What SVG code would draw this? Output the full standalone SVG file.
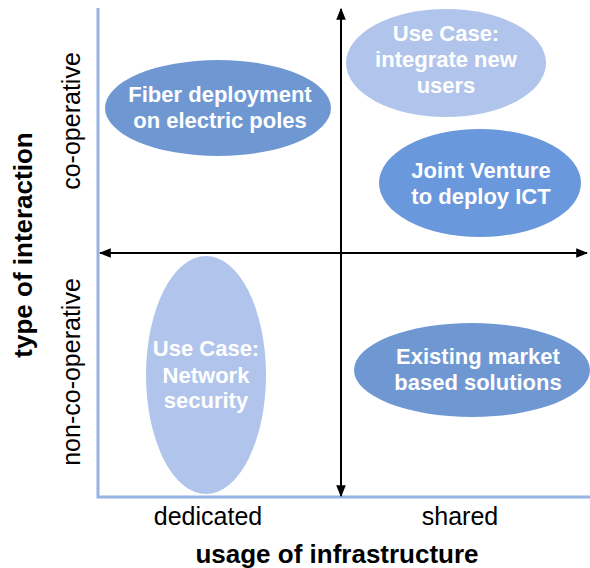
<svg xmlns="http://www.w3.org/2000/svg" width="590" height="568" viewBox="0 0 590 568">
<style>
.lbl{font-family:"Liberation Sans",Arial,sans-serif;font-size:22px;font-weight:bold;fill:#ffffff;text-anchor:middle}
.ax{font-family:"Liberation Sans",Arial,sans-serif;font-size:25px;fill:#000;text-anchor:middle}
.axb{font-family:"Liberation Sans",Arial,sans-serif;font-size:26px;font-weight:bold;fill:#000;text-anchor:middle}
.dark{fill:#6f98d3}
.light{fill:#b1c5ec}
</style>
<defs>
<marker id="ah" viewBox="0 0 10 10" refX="9" refY="5" markerWidth="6" markerHeight="6" orient="auto-start-reverse" markerUnits="strokeWidth">
<path d="M0,1 L10,5 L0,9 z" fill="#000"/>
</marker>
</defs>
<rect width="590" height="568" fill="#fff"/>
<g id="frame">
<polyline points="98,8 98,497 590,497" fill="none" stroke="#95b3e3" stroke-width="3"/>
</g>
<g id="connectors">
<line x1="341" y1="9" x2="341" y2="496" stroke="#000" stroke-width="2" marker-start="url(#ah)" marker-end="url(#ah)"/>
<line x1="100" y1="253" x2="587" y2="253" stroke="#000" stroke-width="2" marker-start="url(#ah)" marker-end="url(#ah)"/>
</g>
<g id="fiber">
<ellipse class="dark" cx="218" cy="108" rx="113" ry="48"/>
<text class="lbl" x="220" y="102">Fiber deployment</text>
<text class="lbl" x="220" y="128">on electric poles</text>
</g>
<g id="integrate">
<ellipse class="light" cx="446" cy="63" rx="100" ry="54"/>
<text class="lbl" x="446" y="41">Use Case:</text>
<text class="lbl" x="446" y="67">integrate new</text>
<text class="lbl" x="446" y="93">users</text>
</g>
<g id="joint">
<ellipse fill="#6a98dc" cx="480" cy="183" rx="101" ry="54"/>
<text class="lbl" x="481" y="178">Joint Venture</text>
<text class="lbl" x="481" y="204">to deploy ICT</text>
</g>
<g id="security">
<ellipse class="light" cx="206" cy="375" rx="60" ry="119"/>
<text class="lbl" x="206" y="356">Use Case:</text>
<text class="lbl" x="206" y="383">Network</text>
<text class="lbl" x="206" y="408">security</text>
</g>
<g id="market">
<ellipse class="dark" cx="472" cy="370" rx="118" ry="47"/>
<text class="lbl" x="478" y="364">Existing market</text>
<text class="lbl" x="478" y="390">based solutions</text>
</g>
<g id="axis-labels">
<text class="ax" x="208" y="525">dedicated</text>
<text class="ax" x="460" y="525">shared</text>
<text class="axb" x="337" y="563">usage of infrastructure</text>
<text class="axb" transform="translate(32,245) rotate(-90)">type of interaction</text>
<text class="ax" transform="translate(80,121) rotate(-90)">co-operative</text>
<text class="ax" transform="translate(80,372) rotate(-90)">non-co-operative</text>
</g>
</svg>
